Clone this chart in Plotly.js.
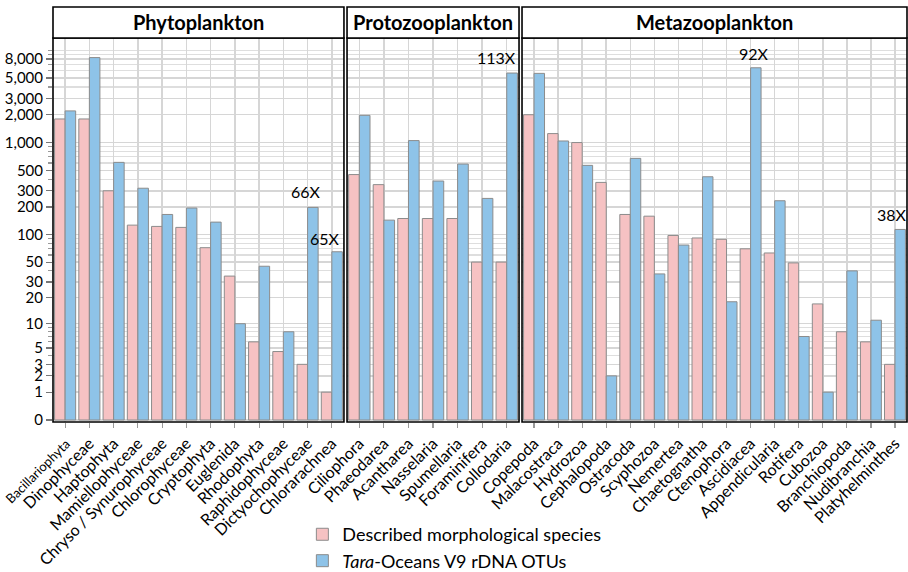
<!DOCTYPE html>
<html>
<head>
<meta charset="utf-8">
<script src="https://cdn.plot.ly/plotly-3.0.1.min.js"></script>
<style>html,body{margin:0;padding:0;background:#fff;}#chart{width:908px;height:572px;}</style>
</head>
<body>
<div id="chart"></div>
<script>
// ---- Data ----
const phytoCats = ['Bacillariophyta','Dinophyceae','Haptophyta','Mamiellophyceae','Chryso / Synurophyceae','Chlorophyceae','Cryptophyta','Euglenida','Rhodophyta','Raphidophyceae','Dictyochophyceae','Chlorarachnea'];
const phytoMorph = [1800, 1800, 300, 127, 123, 120, 72, 35, 6, 4.5, 3, 1];
const phytoOTU   = [2200, 8300, 610, 320, 166, 195, 137, 10, 45, 8, 198, 65];

const protoCats = ['Ciliophora','Phaeodarea','Acantharea','Nasselaria','Spumellaria','Foraminifera','Collodaria'];
const protoMorph = [450, 350, 150, 150, 150, 50, 50];
const protoOTU   = [1970, 144, 1050, 383, 585, 248, 5650];

const metaCats = ['Copepoda','Malacostraca','Hydrozoa','Cephalopoda','Ostracoda','Scyphozoa','Nemertea','Chaetognatha','Ctenophora','Ascidiacea','Appendicularia','Rotifera','Cubozoa','Branchiopoda','Nudibranchia','Platyhelminthes'];
const metaMorph = [2000, 1250, 1000, 370, 166, 159, 98, 92, 89, 70, 63, 49, 17, 8, 6, 3];
const metaOTU   = [5600, 1040, 566, 2, 674, 37, 77, 426, 18, 6440, 234, 7, 1, 40, 11, 114];

const panelTitles = ['Phytoplankton', 'Protozooplankton', 'Metazooplankton'];
const seriesNames = ['Described morphological species', '<i>Tara</i>-Oceans V9 rDNA OTUs'];

const yTickValues = [0,1,2,3,5,10,20,30,50,100,200,300,500,1000,2000,3000,5000,8000];
const yTickText   = ['0','1','2','3','5','10','20','30','50','100','200','300','500','1,000','2,000','3,000','5,000','8,000'];
const yMinorValues = [4,6,7,8,9,40,60,70,80,90,400,600,700,800,900,4000,6000,7000,9000,10000];

const ratioCats = ['Dictyochophyceae','Chlorarachnea','Collodaria','Ascidiacea','Platyhelminthes'];
const ratioText = ['66X','65X','113X','92X','38X'];

// ---- Build ----
const FONT = 'Lato, "Open Sans", "DejaVu Sans", sans-serif';
const PINK = '#F6C2C3', BLUE = '#8EC3E8', EDGE = '#8c8c8c';
const t = v => Math.log10(1 + v);

const panels = [
  {cats: phytoCats, morph: phytoMorph, otu: phytoOTU, xa: 'x',  dom: [0, 0.3407]},
  {cats: protoCats, morph: protoMorph, otu: protoOTU, xa: 'x2', dom: [0.3443, 0.5457]},
  {cats: metaCats,  morph: metaMorph,  otu: metaOTU,  xa: 'x3', dom: [0.5492, 1]}
];

const traces = [];
panels.forEach((p, i) => {
  traces.push({
    type: 'bar', x: p.cats, y: p.morph.map(t), customdata: p.morph,
    name: seriesNames[0], legendgroup: 'm', showlegend: i === 0,
    xaxis: p.xa, yaxis: 'y',
    marker: {color: PINK, line: {color: EDGE, width: 1}},
    hovertemplate: '%{x}: %{customdata}<extra></extra>'
  });
  traces.push({
    type: 'bar', x: p.cats, y: p.otu.map(t), customdata: p.otu,
    name: seriesNames[1], legendgroup: 'o', showlegend: i === 0,
    xaxis: p.xa, yaxis: 'y',
    marker: {color: BLUE, line: {color: EDGE, width: 1}},
    hovertemplate: '%{x}: %{customdata}<extra></extra>'
  });
});

function xaxisDef(p) {
  return {
    domain: p.dom, anchor: 'y', type: 'category', automargin: false,
    range: [-0.5, p.cats.length - 0.5],
    tickmode: 'array', tickvals: p.cats,
    ticktext: p.cats.map(c => c === 'Bacillariophyta' ? '<span style="font-size:13px">' + c + '</span>' : c),
    tickangle: -45, tickfont: {family: FONT, size: 16, color: '#000'},
    ticks: 'outside', ticklen: 5, tickcolor: '#999', tickwidth: 1.2,
    showgrid: true, gridcolor: '#d6d6d6', gridwidth: 1.5,
    showline: false, zeroline: false, fixedrange: true
  };
}

const shapes = [];
const annotations = [];
panels.forEach((p, i) => {
  const dref = p.xa + ' domain';
  shapes.push({type: 'rect', xref: dref, yref: 'y domain', x0: 0, x1: 1, y0: 0, y1: 1,
    line: {color: '#000', width: 1.6}, fillcolor: 'rgba(0,0,0,0)', layer: 'above'});
  shapes.push({type: 'rect', xref: dref, yref: 'y domain', x0: 0, x1: 1, y0: 1, y1: 1.0807,
    line: {color: '#000', width: 1.6}, fillcolor: '#fff', layer: 'above'});
  annotations.push({xref: dref, yref: 'y domain', x: 0.5, y: 1.0404, xanchor: 'center', yanchor: 'middle',
    text: '<b>' + panelTitles[i] + '</b>', showarrow: false, font: {family: FONT, size: 20, color: '#000'}});
});

const ratioAlign = {
  'Dictyochophyceae': {xanchor: 'center', xshift: -2, yshift: 4},
  'Chlorarachnea':    {xanchor: 'right',  xshift: 10, yshift: 2},
  'Collodaria':       {xanchor: 'right',  xshift: 11, yshift: 4},
  'Ascidiacea':       {xanchor: 'center', xshift: 3,  yshift: 3},
  'Platyhelminthes':  {xanchor: 'right',  xshift: 14, yshift: 3}
};
ratioCats.forEach((c, k) => {
  const p = panels.find(pp => pp.cats.includes(c));
  const v = p.otu[p.cats.indexOf(c)];
  const a = ratioAlign[c];
  annotations.push({xref: p.xa, yref: 'y', x: c, y: t(v), xanchor: a.xanchor, yanchor: 'bottom',
    xshift: a.xshift, yshift: a.yshift, text: ratioText[k], showarrow: false,
    font: {family: FONT, size: 16, color: '#000'}});
});

const layout = {
  width: 908, height: 572,
  margin: {l: 53, r: 1, t: 38, b: 150, pad: 0, autoexpand: false},
  paper_bgcolor: '#fff', plot_bgcolor: '#fff',
  font: {family: FONT, size: 16, color: '#000'},
  barmode: 'group', bargap: 0.13, bargroupgap: 0,
  xaxis: xaxisDef(panels[0]),
  xaxis2: xaxisDef(panels[1]),
  xaxis3: xaxisDef(panels[2]),
  yaxis: {
    domain: [0, 1], anchor: 'x', automargin: false,
    range: [-0.0216, 4.131],
    tickmode: 'array', tickvals: yTickValues.map(t), ticktext: yTickText,
    tickfont: {family: FONT, size: 15, color: '#000'},
    ticks: 'outside', ticklen: 6, tickcolor: '#777', tickwidth: 1.2,
    showgrid: true, gridcolor: '#d6d6d6', gridwidth: 1.5,
    minor: {tickmode: 'array', tickvals: yMinorValues.map(t), ticks: 'outside', ticklen: 4,
            tickcolor: '#999', showgrid: true, gridcolor: '#dedede', gridwidth: 1.2},
    zeroline: false, showline: false, fixedrange: true
  },
  showlegend: true,
  legend: {x: 0.292, y: -0.245, xanchor: 'left', yanchor: 'top', orientation: 'v',
    font: {family: FONT, size: 18, color: '#000'}, bgcolor: 'rgba(0,0,0,0)', borderwidth: 0,
    tracegroupgap: 0, itemclick: false, itemdoubleclick: false},
  shapes: shapes,
  annotations: annotations
};

Plotly.newPlot('chart', traces, layout, {displayModeBar: false, staticPlot: true});
</script>
</body>
</html>
